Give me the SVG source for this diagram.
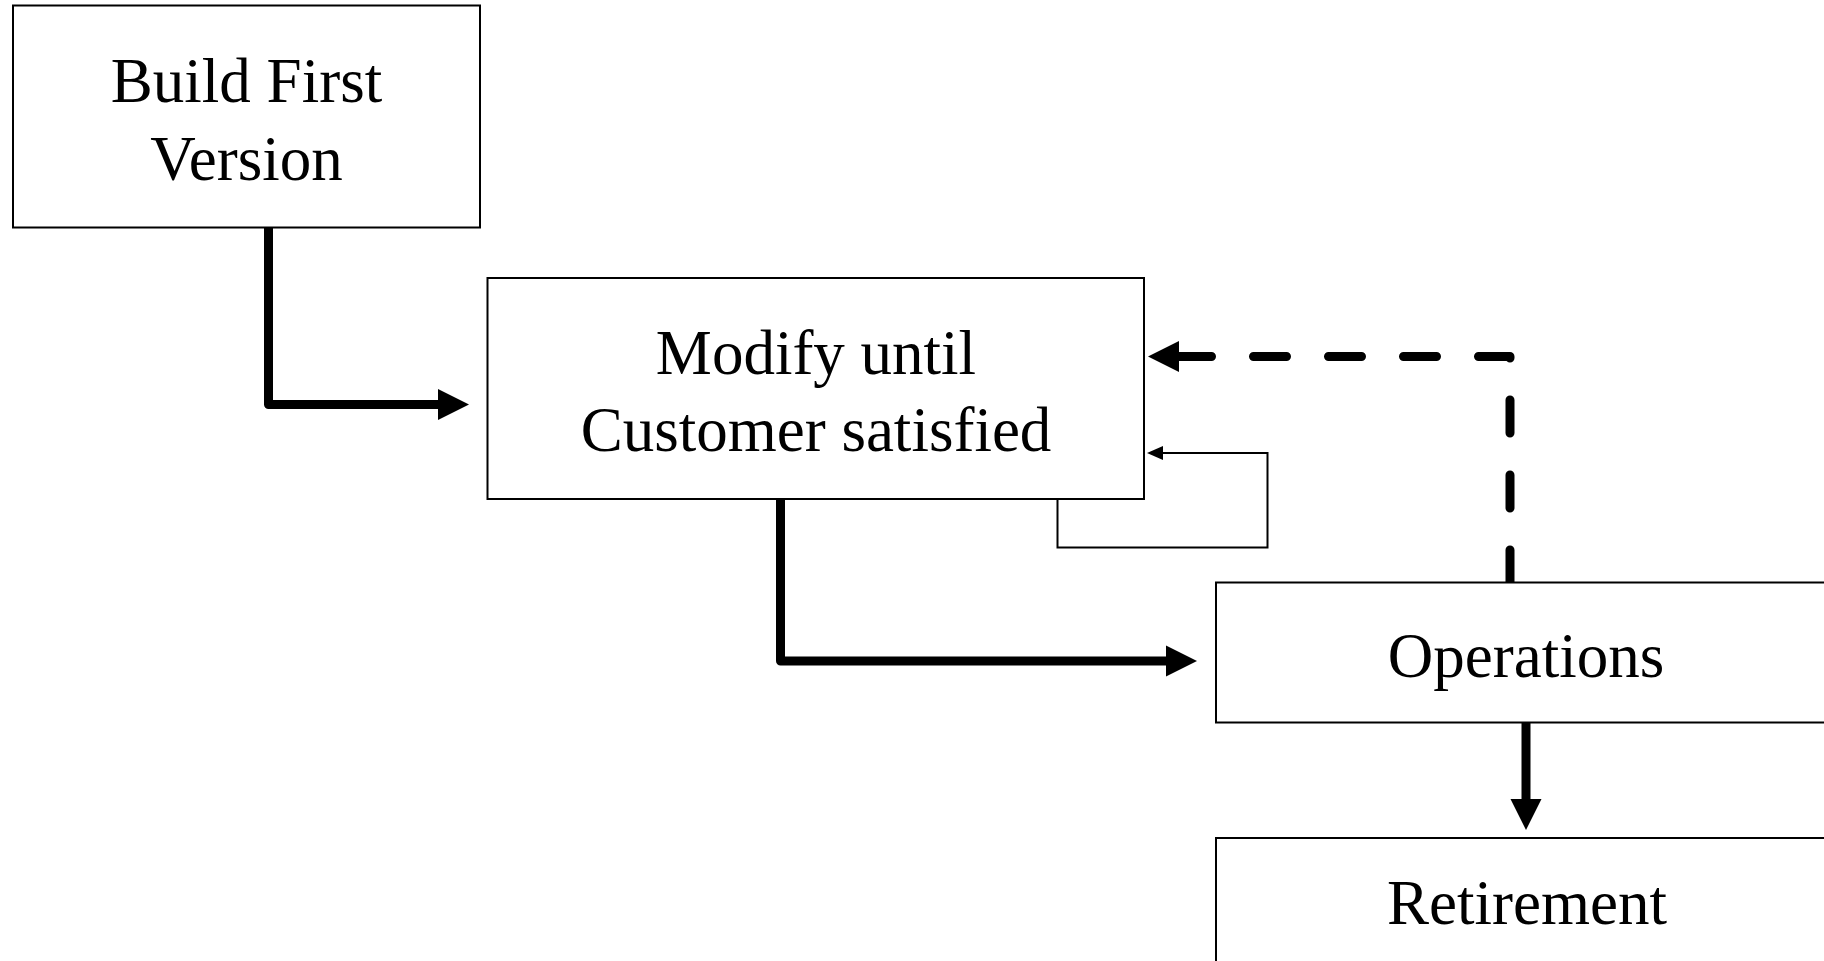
<svg xmlns="http://www.w3.org/2000/svg" width="1824" height="961" viewBox="0 0 1824 961">
<style>
.box{fill:#fff;stroke:#000;stroke-width:2}
.lbl{font-family:"Liberation Serif","Times New Roman",serif;font-size:63px;fill:#000;text-anchor:middle}
.thick{fill:none;stroke:#000;stroke-width:9;stroke-linejoin:round;stroke-linecap:round}
.thin{fill:none;stroke:#000;stroke-width:2;stroke-linejoin:miter}
.dash{fill:none;stroke:#000;stroke-width:9;stroke-linecap:round;stroke-linejoin:round;stroke-dasharray:33 42}
</style>
<defs>
<marker id="big" markerUnits="userSpaceOnUse" markerWidth="32" markerHeight="32" refX="1" refY="15.5" orient="auto" overflow="visible">
<path d="M0,0 L31,15.5 L0,31 Z" fill="#000"/>
</marker>
<marker id="small" markerUnits="userSpaceOnUse" markerWidth="17" markerHeight="15" refX="1" refY="7" orient="auto" overflow="visible">
<path d="M0,0 L16,7 L0,14 Z" fill="#000"/>
</marker>
</defs>
<rect width="1824" height="961" fill="#fff"/>
<g id="connectors">
<path class="thick" d="M268.5,228 V404.5 H439" marker-end="url(#big)"/>
<path class="thick" d="M780.5,499 V661 H1167" marker-end="url(#big)"/>
<path class="thin" d="M1057.5,499 V547.5 H1267.5 V453 H1162" marker-end="url(#small)"/>
<path class="dash" d="M1510,583 V356.5 H1178" marker-end="url(#big)"/>
<path class="thick" style="stroke-linecap:butt" d="M1526,723 V800" marker-end="url(#big)"/>
</g>
<g id="build-first-version">
<rect class="box" x="13" y="5.5" width="467" height="222"/>
<text class="lbl" x="246.5" y="102">Build First</text>
<text class="lbl" x="246.5" y="180">Version</text>
</g>
<g id="modify-until-satisfied">
<rect class="box" x="487.5" y="278" width="656.5" height="221"/>
<text class="lbl" x="816" y="374">Modify until</text>
<text class="lbl" x="816" y="451">Customer satisfied</text>
</g>
<g id="operations">
<rect class="box" x="1216" y="582.5" width="620" height="140"/>
<text class="lbl" x="1526" y="677">Operations</text>
</g>
<g id="retirement">
<rect class="box" x="1216" y="838" width="620" height="140"/>
<text class="lbl" x="1527" y="924">Retirement</text>
</g>
</svg>
